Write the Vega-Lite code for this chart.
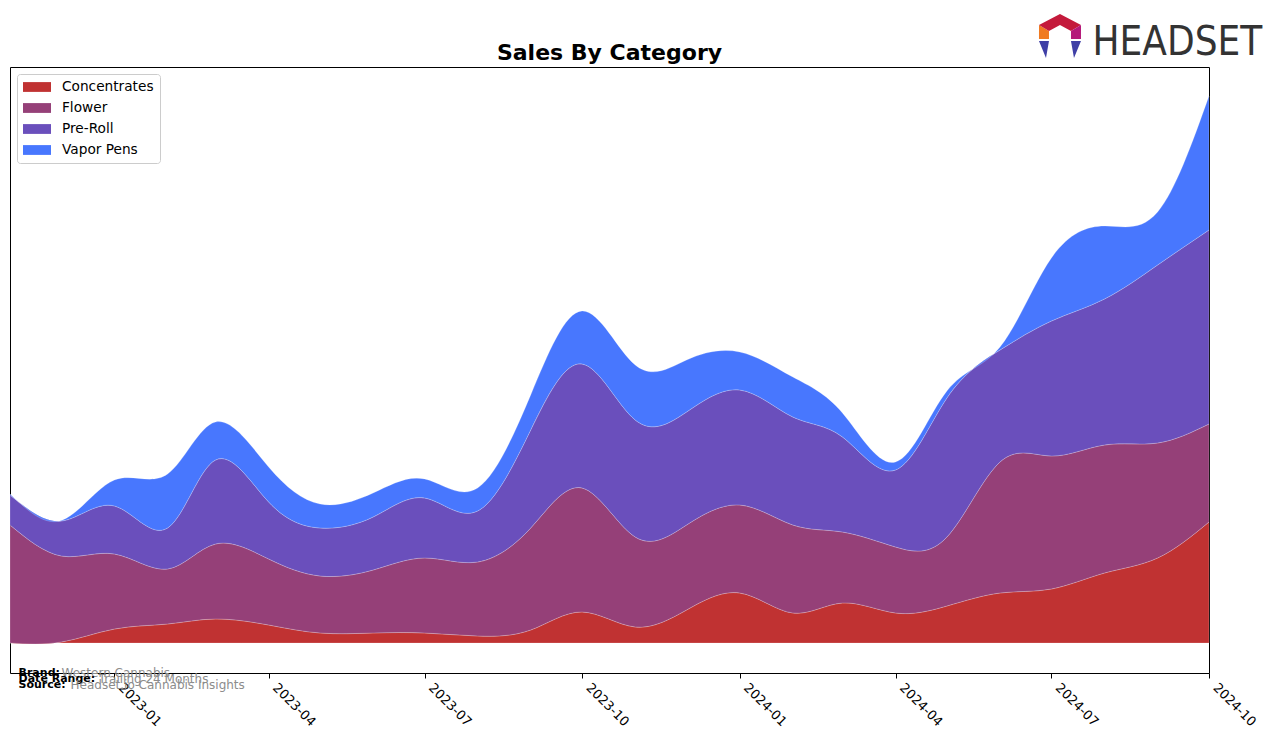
{
  "$schema": "https://vega.github.io/schema/vega-lite/v6.json",
  "width": 1199,
  "height": 606,
  "autosize": {"type": "none"},
  "padding": {"left": 10, "top": 67, "right": 67, "bottom": 70},
  "background": "white",
  "config": {"view": {"stroke": "black", "strokeWidth": 1}, "font": "DejaVu Sans"},
  "data": {"values": [
    {"m":"2022-11-01","c":"Concentrates","v":0},{"m":"2022-11-01","c":"Flower","v":118},{"m":"2022-11-01","c":"Pre-Roll","v":30},{"m":"2022-11-01","c":"Vapor Pens","v":1},
    {"m":"2022-12-01","c":"Concentrates","v":1},{"m":"2022-12-01","c":"Flower","v":86},{"m":"2022-12-01","c":"Pre-Roll","v":35},{"m":"2022-12-01","c":"Vapor Pens","v":0.5},
    {"m":"2023-01-01","c":"Concentrates","v":14},{"m":"2023-01-01","c":"Flower","v":75},{"m":"2023-01-01","c":"Pre-Roll","v":48},{"m":"2023-01-01","c":"Vapor Pens","v":26},
    {"m":"2023-02-01","c":"Concentrates","v":19},{"m":"2023-02-01","c":"Flower","v":55},{"m":"2023-02-01","c":"Pre-Roll","v":41},{"m":"2023-02-01","c":"Vapor Pens","v":54},
    {"m":"2023-03-01","c":"Concentrates","v":24},{"m":"2023-03-01","c":"Flower","v":75},{"m":"2023-03-01","c":"Pre-Roll","v":84},{"m":"2023-03-01","c":"Vapor Pens","v":38},
    {"m":"2023-04-01","c":"Concentrates","v":18},{"m":"2023-04-01","c":"Flower","v":66},{"m":"2023-04-01","c":"Pre-Roll","v":57},{"m":"2023-04-01","c":"Vapor Pens","v":35},
    {"m":"2023-05-01","c":"Concentrates","v":10},{"m":"2023-05-01","c":"Flower","v":57},{"m":"2023-05-01","c":"Pre-Roll","v":48},{"m":"2023-05-01","c":"Vapor Pens","v":24},
    {"m":"2023-06-01","c":"Concentrates","v":10},{"m":"2023-06-01","c":"Flower","v":63},{"m":"2023-06-01","c":"Pre-Roll","v":53},{"m":"2023-06-01","c":"Vapor Pens","v":24},
    {"m":"2023-07-01","c":"Concentrates","v":10},{"m":"2023-07-01","c":"Flower","v":75},{"m":"2023-07-01","c":"Pre-Roll","v":60},{"m":"2023-07-01","c":"Vapor Pens","v":19},
    {"m":"2023-08-01","c":"Concentrates","v":7},{"m":"2023-08-01","c":"Flower","v":74},{"m":"2023-08-01","c":"Pre-Roll","v":51},{"m":"2023-08-01","c":"Vapor Pens","v":23},
    {"m":"2023-09-01","c":"Concentrates","v":13},{"m":"2023-09-01","c":"Flower","v":102},{"m":"2023-09-01","c":"Pre-Roll","v":98},{"m":"2023-09-01","c":"Vapor Pens","v":35},
    {"m":"2023-10-01","c":"Concentrates","v":31},{"m":"2023-10-01","c":"Flower","v":124},{"m":"2023-10-01","c":"Pre-Roll","v":124},{"m":"2023-10-01","c":"Vapor Pens","v":53},
    {"m":"2023-11-01","c":"Concentrates","v":16},{"m":"2023-11-01","c":"Flower","v":90},{"m":"2023-11-01","c":"Pre-Roll","v":117},{"m":"2023-11-01","c":"Vapor Pens","v":55},
    {"m":"2023-12-01","c":"Concentrates","v":33},{"m":"2023-12-01","c":"Flower","v":85},{"m":"2023-12-01","c":"Pre-Roll","v":113},{"m":"2023-12-01","c":"Vapor Pens","v":52},
    {"m":"2024-01-01","c":"Concentrates","v":50},{"m":"2024-01-01","c":"Flower","v":88},{"m":"2024-01-01","c":"Pre-Roll","v":115},{"m":"2024-01-01","c":"Vapor Pens","v":38},
    {"m":"2024-02-01","c":"Concentrates","v":30},{"m":"2024-02-01","c":"Flower","v":88},{"m":"2024-02-01","c":"Pre-Roll","v":108},{"m":"2024-02-01","c":"Vapor Pens","v":40},
    {"m":"2024-03-01","c":"Concentrates","v":40},{"m":"2024-03-01","c":"Flower","v":71},{"m":"2024-03-01","c":"Pre-Roll","v":95},{"m":"2024-03-01","c":"Vapor Pens","v":24},
    {"m":"2024-04-01","c":"Concentrates","v":30},{"m":"2024-04-01","c":"Flower","v":66},{"m":"2024-04-01","c":"Pre-Roll","v":77},{"m":"2024-04-01","c":"Vapor Pens","v":8},
    {"m":"2024-05-01","c":"Concentrates","v":37},{"m":"2024-05-01","c":"Flower","v":69},{"m":"2024-05-01","c":"Pre-Roll","v":139},{"m":"2024-05-01","c":"Vapor Pens","v":7},
    {"m":"2024-06-01","c":"Concentrates","v":50},{"m":"2024-06-01","c":"Flower","v":131},{"m":"2024-06-01","c":"Pre-Roll","v":112},{"m":"2024-06-01","c":"Vapor Pens","v":3},
    {"m":"2024-07-01","c":"Concentrates","v":54},{"m":"2024-07-01","c":"Flower","v":133},{"m":"2024-07-01","c":"Pre-Roll","v":135},{"m":"2024-07-01","c":"Vapor Pens","v":63},
    {"m":"2024-08-01","c":"Concentrates","v":70},{"m":"2024-08-01","c":"Flower","v":128},{"m":"2024-08-01","c":"Pre-Roll","v":146},{"m":"2024-08-01","c":"Vapor Pens","v":73},
    {"m":"2024-09-01","c":"Concentrates","v":85},{"m":"2024-09-01","c":"Flower","v":115},{"m":"2024-09-01","c":"Pre-Roll","v":178},{"m":"2024-09-01","c":"Vapor Pens","v":53},
    {"m":"2024-10-01","c":"Concentrates","v":121},{"m":"2024-10-01","c":"Flower","v":98},{"m":"2024-10-01","c":"Pre-Roll","v":194},{"m":"2024-10-01","c":"Vapor Pens","v":134}
  ]},
  "layer": [
    {
      "mark": {"type": "area", "interpolate": "natural", "stroke": "white", "strokeWidth": 0.6, "strokeOpacity": 0.35},
      "encoding": {
        "x": {"field": "m", "type": "temporal",
          "scale": {"type": "utc", "domain": [{"year": 2022, "month": 11, "date": 1, "utc": true}, {"year": 2024, "month": 10, "date": 1, "utc": true}]},
          "axis": {"values": [
            {"year": 2023, "month": 1, "date": 1, "utc": true},
            {"year": 2023, "month": 4, "date": 1, "utc": true},
            {"year": 2023, "month": 7, "date": 1, "utc": true},
            {"year": 2023, "month": 10, "date": 1, "utc": true},
            {"year": 2024, "month": 1, "date": 1, "utc": true},
            {"year": 2024, "month": 4, "date": 1, "utc": true},
            {"year": 2024, "month": 7, "date": 1, "utc": true},
            {"year": 2024, "month": 10, "date": 1, "utc": true}
          ], "format": "%Y-%m", "labelAngle": 45, "labelAlign": "left", "labelBaseline": "top", "labelOffset": 10, "labelFontSize": 13, "labelFont": "DejaVu Sans", "labelColor": "black", "tickColor": "black", "tickSize": 5, "domain": false, "grid": false, "title": null, "labelPadding": 3, "labelOverlap": false, "labelBound": false, "labelFlush": false}},
        "y": {"field": "v", "type": "quantitative", "stack": "zero", "scale": {"domain": [-30, 576], "nice": false, "zero": false}, "axis": null},
        "order": {"field": "c", "type": "nominal", "sort": "ascending"},
        "color": {"field": "c", "type": "nominal",
          "scale": {"domain": ["Concentrates", "Flower", "Pre-Roll", "Vapor Pens"], "range": ["#c03232", "#954078", "#6a4fbc", "#4877fe"]},
          "legend": {"title": null, "orient": "none", "legendX": 7, "legendY": 7, "padding": 6, "strokeColor": "#cccccc", "fillColor": "white", "cornerRadius": 3, "labelFontSize": 13.7, "labelFont": "DejaVu Sans", "labelColor": "black", "symbolType": "M-2,-0.7H2V0.7H-2Z", "symbolSize": 196, "symbolStrokeWidth": 0, "symbolOpacity": 1, "rowPadding": 7, "labelOffset": 18, "symbolOffset": 7}
        }
      }
    },
    {"data": {"values": [{}]}, "mark": {"type": "text", "text": "Sales By Category", "fontWeight": "bold", "fontSize": 22, "font": "DejaVu Sans", "align": "center", "baseline": "alphabetic", "color": "black"},
     "encoding": {"x": {"datum": {"year": 2023, "month": 10, "date": 17, "utc": true}, "type": "temporal"}, "y": {"datum": 583.5, "type": "quantitative"}}},
    {"data": {"values": [{}]}, "mark": {"type": "text", "text": "Brand:", "fontWeight": "bold", "fontSize": 11, "align": "left", "baseline": "middle", "color": "black"},
     "encoding": {"x": {"datum": {"year": 2022, "month": 11, "date": 6, "utc": true}, "type": "temporal"}, "y": {"datum": -30, "type": "quantitative"}}},
    {"data": {"values": [{}]}, "mark": {"type": "text", "text": "Western Cannabis", "fontSize": 12, "align": "left", "baseline": "middle", "color": "#8c8c8c", "dx": 43},
     "encoding": {"x": {"datum": {"year": 2022, "month": 11, "date": 6, "utc": true}, "type": "temporal"}, "y": {"datum": -30, "type": "quantitative"}}},
    {"data": {"values": [{}]}, "mark": {"type": "text", "text": "Date Range:", "fontWeight": "bold", "fontSize": 11, "align": "left", "baseline": "middle", "color": "black"},
     "encoding": {"x": {"datum": {"year": 2022, "month": 11, "date": 6, "utc": true}, "type": "temporal"}, "y": {"datum": -36, "type": "quantitative"}}},
    {"data": {"values": [{}]}, "mark": {"type": "text", "text": "Trailing 24 Months", "fontSize": 12, "align": "left", "baseline": "middle", "color": "#8c8c8c", "dx": 80},
     "encoding": {"x": {"datum": {"year": 2022, "month": 11, "date": 6, "utc": true}, "type": "temporal"}, "y": {"datum": -36, "type": "quantitative"}}},
    {"data": {"values": [{}]}, "mark": {"type": "text", "text": "Source:", "fontWeight": "bold", "fontSize": 11, "align": "left", "baseline": "middle", "color": "black"},
     "encoding": {"x": {"datum": {"year": 2022, "month": 11, "date": 6, "utc": true}, "type": "temporal"}, "y": {"datum": -42, "type": "quantitative"}}},
    {"data": {"values": [{}]}, "mark": {"type": "text", "text": "Headset.io Cannabis Insights", "fontSize": 12, "align": "left", "baseline": "middle", "color": "#8c8c8c", "dx": 52},
     "encoding": {"x": {"datum": {"year": 2022, "month": 11, "date": 6, "utc": true}, "type": "temporal"}, "y": {"datum": -42, "type": "quantitative"}}},
    {"data": {"values": [{}]}, "mark": {"type": "text", "text": "HEADSET", "fontSize": 40, "font": "DejaVu Sans Condensed, Roboto", "align": "left", "baseline": "alphabetic", "color": "#333333"},
     "encoding": {"x": {"datum": {"year": 2024, "month": 7, "date": 25, "utc": true}, "type": "temporal"}, "y": {"datum": 588, "type": "quantitative"}}},
    {"data": {"values": [{}]}, "mark": {"type": "point", "shape": "M-21,3L-21,-11L-11,-5L-11,3Z", "size": 4, "filled": true, "color": "#f07a22", "opacity": 1, "strokeWidth": 0},
     "encoding": {"x": {"datum": {"year": 2024, "month": 7, "date": 6, "utc": true}, "type": "temporal"}, "y": {"datum": 607, "type": "quantitative"}}},
    {"data": {"values": [{}]}, "mark": {"type": "point", "shape": "M-21,-11L0,-22L21,-11L11,-5L0,-11L-11,-5Z", "size": 4, "filled": true, "color": "#c41a3b", "opacity": 1, "strokeWidth": 0},
     "encoding": {"x": {"datum": {"year": 2024, "month": 7, "date": 6, "utc": true}, "type": "temporal"}, "y": {"datum": 607, "type": "quantitative"}}},
    {"data": {"values": [{}]}, "mark": {"type": "point", "shape": "M21,-11L21,3L11,3L11,-5Z", "size": 4, "filled": true, "color": "#b5197a", "opacity": 1, "strokeWidth": 0},
     "encoding": {"x": {"datum": {"year": 2024, "month": 7, "date": 6, "utc": true}, "type": "temporal"}, "y": {"datum": 607, "type": "quantitative"}}},
    {"data": {"values": [{}]}, "mark": {"type": "point", "shape": "M-21,5L-11,5L-14,22Z M21,5L11,5L14,22Z", "size": 4, "filled": true, "color": "#3f3fa6", "opacity": 1, "strokeWidth": 0},
     "encoding": {"x": {"datum": {"year": 2024, "month": 7, "date": 6, "utc": true}, "type": "temporal"}, "y": {"datum": 607, "type": "quantitative"}}}
  ]
}
